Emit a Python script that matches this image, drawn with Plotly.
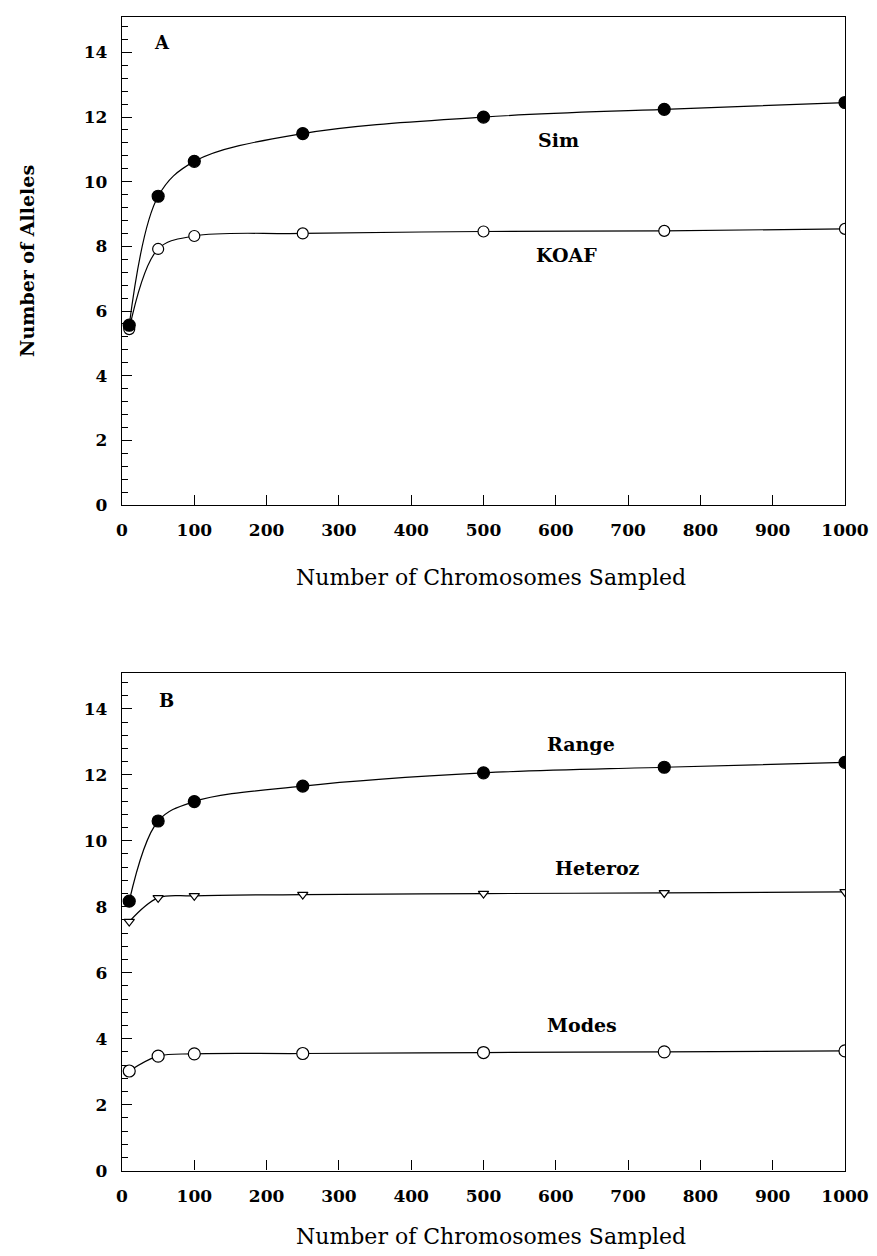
import plotly.graph_objects as go

# ---- data ----
chromosomes = [10, 50, 100, 250, 500, 750, 1000]
# Panel A
sim_alleles = [5.56, 9.55, 10.63, 11.49, 12.0, 12.24, 12.45]
koaf_alleles = [5.44, 7.92, 8.32, 8.40, 8.46, 8.48, 8.54]
# Panel B
range_alleles = [8.17, 10.6, 11.19, 11.66, 12.06, 12.23, 12.38]
heteroz_alleles = [7.55, 8.27, 8.33, 8.37, 8.40, 8.42, 8.45]
modes_alleles = [3.02, 3.47, 3.54, 3.55, 3.58, 3.60, 3.63]

x_ticks = [0, 100, 200, 300, 400, 500, 600, 700, 800, 900, 1000]
y_ticks = [0, 2, 4, 6, 8, 10, 12, 14]

FONT = "DejaVu Serif"
W, H = 877, 1256
L, R = 122, 32

fig = go.Figure()

line_style = dict(color="black", width=1.2, shape="spline", smoothing=1.0)

def add(x, y, symbol, size, xa, ya, filled):
    marker = dict(symbol=symbol, size=size, color="black" if filled else "white",
                  line=dict(color="black", width=1.2))
    fig.add_trace(go.Scatter(x=x, y=y, mode="lines+markers", line=line_style,
                             marker=marker, xaxis=xa, yaxis=ya,
                             showlegend=False, hoverinfo="skip"))

add(chromosomes, koaf_alleles, "circle", 11, "x", "y", False)
add(chromosomes, sim_alleles, "circle", 12, "x", "y", True)
add(chromosomes, modes_alleles, "circle", 12, "x2", "y2", False)
add(chromosomes, heteroz_alleles, "triangle-down", 9, "x2", "y2", False)
add(chromosomes, range_alleles, "circle", 12, "x2", "y2", True)

def b(s):
    return "<b>%s</b>" % s

def xaxis(anchor):
    return dict(domain=[0, 1], range=[0, 1000], anchor=anchor,
                tickmode="array", tickvals=x_ticks, ticktext=[b(v) for v in x_ticks],
                ticks="inside", ticklen=10, tickwidth=1.2, tickcolor="black",
                showline=True, linecolor="black", linewidth=1.3, mirror=True,
                showgrid=False, zeroline=False, ticklabelstandoff=10,
                tickfont=dict(family=FONT, size=17, color="black"))

def yaxis(anchor, dom, title=None):
    d = dict(domain=dom, range=[0, 15.1], anchor=anchor,
             tickmode="array", tickvals=y_ticks, ticktext=[b(v) for v in y_ticks],
             ticks="inside", ticklen=10, tickwidth=1.2, tickcolor="black",
             minor=dict(tickmode="linear", tick0=0, dtick=0.4, ticks="inside",
                       ticklen=6, tickwidth=1, tickcolor="black", showgrid=False),
             showline=True, linecolor="black", linewidth=1.3, mirror=True,
             showgrid=False, zeroline=False, ticklabelstandoff=10,
             tickfont=dict(family=FONT, size=17, color="black"))
    if title:
        d["title"] = dict(text=b(title), font=dict(family=FONT, size=19, color="black"),
                          standoff=44)
    return d

domA = [1 - 509 / H, 1 - 17 / H]
domB = [1 - 1180 / H, 1 - 678 / H]

annotations = []
def label(text, x, y, xref, yref, size=19):
    annotations.append(dict(text=b(text), x=x, y=y, xref=xref, yref=yref,
                            showarrow=False, xanchor="center", yanchor="middle",
                            font=dict(family=FONT, size=size, color="black")))

label("A", 55, 14.3, "x", "y", 18)
label("Sim", 604, 11.3, "x", "y")
label("KOAF", 615, 7.74, "x", "y")
label("B", 62, 14.26, "x2", "y2", 18)
label("Range", 635, 12.93, "x2", "y2")
label("Heteroz", 658, 9.19, "x2", "y2")
label("Modes", 636, 4.42, "x2", "y2")

for ypix in (582, 1246):
    annotations.append(dict(text="Number of Chromosomes Sampled",
                            x=(491 - L) / (W - L - R), y=1 - ypix / H,
                            xref="paper", yref="paper", showarrow=False,
                            xanchor="center", yanchor="middle",
                            font=dict(family=FONT, size=22, color="black")))

fig.update_layout(
    width=W, height=H,
    margin=dict(l=L, r=R, t=0, b=0),
    paper_bgcolor="white", plot_bgcolor="white",
    xaxis=xaxis("y"), yaxis=yaxis("x", domA, "Number of Alleles"),
    xaxis2=xaxis("y2"), yaxis2=yaxis("x2", domB),
    annotations=annotations,
    font=dict(family=FONT, color="black"),
)

fig.write_html("out.html")
